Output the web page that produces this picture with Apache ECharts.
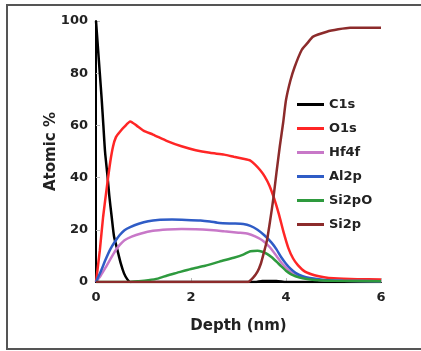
<!DOCTYPE html>
<html>
<head>
<meta charset="utf-8">
<script src="https://cdn.jsdelivr.net/npm/echarts@6/dist/echarts.min.js"></script>
<style>
html,body{margin:0;padding:0;background:#fff;}
#chart{width:421px;height:351px;}
</style>
</head>
<body>
<div id="chart"></div>
<script>
var seriesNames = ['C1s', 'O1s', 'Hf4f', 'Al2p', 'Si2pO', 'Si2p'];
var xTicks = [0, 2, 4, 6];
var yTicks = [0, 20, 40, 60, 80, 100];

var c1s = [[0,100],[0.04,90],[0.08,80],[0.12,70],[0.155,60],[0.19,50],[0.24,41],[0.28,33],[0.33,25],[0.38,17.4],[0.45,12.3],[0.52,7.2],[0.59,3.3],[0.66,1],[0.72,0],[3.35,0],[3.5,0.4],[3.8,0.4],[4.0,0],[6,0]];
var o1s = [[0,0],[0.08,12],[0.15,25],[0.24,38],[0.3,46],[0.36,52],[0.42,55.5],[0.5,57.5],[0.6,59.5],[0.72,61.5],[0.85,60],[1.0,58],[1.2,56.5],[1.5,54],[1.8,52],[2.1,50.5],[2.4,49.5],[2.7,48.8],[2.9,48],[3.1,47.2],[3.25,46.5],[3.35,45],[3.45,43],[3.55,40.5],[3.65,37],[3.75,32],[3.85,26],[3.95,19],[4.05,13],[4.15,9],[4.25,6.5],[4.4,4],[4.6,2.6],[4.8,1.8],[5.0,1.4],[5.5,1.1],[6,1.0]];
var hf4f = [[0,0],[0.1,2.5],[0.2,5.5],[0.3,8.7],[0.4,11.8],[0.5,14.2],[0.6,16],[0.75,17.4],[0.95,18.6],[1.2,19.6],[1.5,20.1],[1.8,20.3],[2.1,20.2],[2.4,19.9],[2.7,19.4],[3.0,18.9],[3.2,18.5],[3.35,17.5],[3.5,16],[3.65,13.5],[3.8,10],[3.9,7.5],[4.0,5.5],[4.1,3.8],[4.2,2.6],[4.4,1.5],[4.7,0.8],[5.2,0.5],[6,0.3]];
var al2p = [[0,0],[0.1,4],[0.2,8.5],[0.3,12.5],[0.4,15.5],[0.5,18],[0.6,19.8],[0.72,21],[0.9,22.3],[1.1,23.3],[1.3,23.8],[1.6,23.9],[1.9,23.8],[2.2,23.6],[2.4,23.2],[2.6,22.6],[2.9,22.4],[3.1,22.2],[3.25,21.5],[3.4,20],[3.55,17.8],[3.7,15],[3.8,12.5],[3.9,9.5],[4.0,7],[4.1,5],[4.2,3.5],[4.35,2.2],[4.5,1.5],[4.8,0.8],[5.2,0.5],[6,0.3]];
var si2po = [[0,0],[0.7,0],[0.9,0.3],[1.1,0.7],[1.3,1.3],[1.5,2.5],[1.7,3.5],[2.0,5],[2.3,6.2],[2.6,7.8],[2.9,9.3],[3.1,10.5],[3.25,11.8],[3.4,12],[3.5,11.6],[3.6,10.8],[3.7,9.5],[3.8,7.8],[3.9,6],[4.0,4.3],[4.1,3],[4.2,2.2],[4.35,1.4],[4.6,0.8],[5.0,0.5],[6,0.3]];
var si2p = [[0,0],[3.2,0],[3.3,1.5],[3.4,4],[3.47,7],[3.53,11],[3.6,16],[3.67,24],[3.73,31.5],[3.8,42],[3.87,52],[3.94,61],[4.0,69.7],[4.09,77],[4.18,82.3],[4.33,88.9],[4.45,91.5],[4.57,94],[4.86,95.9],[5.1,96.8],[5.35,97.4],[6,97.4]];

var seriesData = [c1s, o1s, hf4f, al2p, si2po, si2p];
var colors = ['#000000', '#ff2626', '#c878c8', '#2f5cc6', '#2e9a3e', '#8c2b2b'];

var chart = echarts.init(document.getElementById('chart'));
var font = 'DejaVu Sans';

chart.setOption({
  animation: false,
  backgroundColor: '#fff',
  graphic: [{
    type: 'rect',
    shape: { x: 7, y: 5, width: 420, height: 344 },
    style: { fill: 'none', stroke: '#555', lineWidth: 2 },
    silent: true
  }],
  grid: { left: 96, right: 40, top: 21, bottom: 69, containLabel: false },
  legend: {
    orient: 'vertical',
    left: 292,
    top: 93,
    itemWidth: 27,
    itemHeight: 14,
    itemGap: 11,
    icon: 'path://M0,0L27,0L27,3L0,3Z',
    data: seriesNames,
    textStyle: { fontFamily: font, fontWeight: 'bold', fontSize: 13, color: '#222' }
  },
  xAxis: {
    type: 'value',
    min: 0, max: 6, interval: 2,
    name: 'Depth (nm)',
    nameLocation: 'middle',
    nameGap: 37,
    nameMoveOverlap: false,
    nameTextStyle: { fontFamily: font, fontWeight: 'bold', fontSize: 15, color: '#222' },
    axisLine: { lineStyle: { color: '#000', width: 2 } },
    axisTick: { show: true, inside: true, length: 4, lineStyle: { color: '#bbb' } },
    axisLabel: { margin: 9, fontFamily: font, fontWeight: 'bold', fontSize: 13, color: '#222',
      formatter: function (v) { return xTicks.indexOf(v) >= 0 ? String(v) : ''; } },
    splitLine: { show: false }
  },
  yAxis: {
    type: 'value',
    min: 0, max: 100, interval: 20,
    name: 'Atomic %',
    nameLocation: 'middle',
    nameGap: 37,
    nameMoveOverlap: false,
    nameTextStyle: { fontFamily: font, fontWeight: 'bold', fontSize: 15, color: '#222' },
    axisLine: { show: true, lineStyle: { color: '#000', width: 2 } },
    axisTick: { show: true, inside: true, length: 4, lineStyle: { color: '#bbb' } },
    axisLabel: { margin: 8, fontFamily: font, fontWeight: 'bold', fontSize: 13, color: '#222',
      formatter: function (v) { return yTicks.indexOf(v) >= 0 ? String(v) : ''; } },
    splitLine: { show: false }
  },
  series: seriesNames.map(function (n, i) {
    return {
      name: n,
      type: 'line',
      data: seriesData[i],
      symbol: 'none',
      showSymbol: false,
      smooth: 0.2,
      color: colors[i],
      lineStyle: { color: colors[i], width: 2.5 }
    };
  })
});
</script>
</body>
</html>
